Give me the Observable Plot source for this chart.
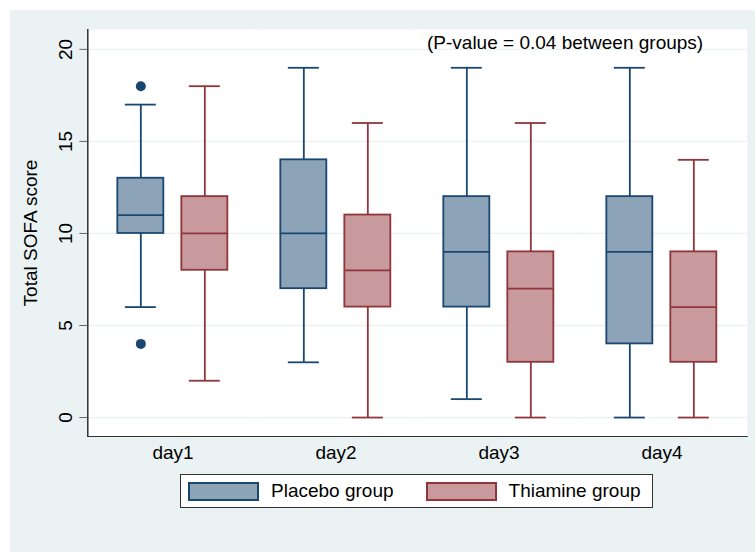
<!DOCTYPE html>
<html><head><meta charset="utf-8">
<script src="https://cdn.jsdelivr.net/npm/d3@7"></script>
<script src="https://cdn.jsdelivr.net/npm/@observablehq/plot@0.6"></script>
<style>
html,body{margin:0;padding:0;background:#fff;}
#wrap{position:absolute;left:10px;top:10px;width:745px;height:542px;background:#EAF2F3;overflow:hidden;font-family:"Liberation Sans",Arial,sans-serif;}
#chart svg{display:block}
#legend{position:absolute;left:170px;top:464px;width:473px;height:34px;box-sizing:border-box;border:1px solid #333;background:#fff;display:flex;align-items:center;font-size:19px;color:#000;}
.sw{width:71px;height:19px;box-sizing:border-box;border:2px solid;}
</style></head><body>
<div id="wrap"><div id="chart"></div><div id="legend"></div></div>
<script>
const days = ["day1", "day2", "day3", "day4"];
const groups = ["Placebo", "Thiamine"];
const groupLabels = ["Placebo group", "Thiamine group"];
const fills = ["#8DA3B8", "#C8999D"];
const strokes = ["#1A476F", "#90353B"];

const placeboMin    = [6, 3, 1, 0];
const placeboQ1     = [10, 7, 6, 4];
const placeboMedian = [11, 10, 9, 9];
const placeboQ3     = [13, 14, 12, 12];
const placeboMax    = [17, 19, 19, 19];

const thiamineMin    = [2, 0, 0, 0];
const thiamineQ1     = [8, 6, 3, 3];
const thiamineMedian = [10, 8, 7, 6];
const thiamineQ3     = [12, 11, 9, 9];
const thiamineMax    = [18, 16, 16, 14];

const outlierDays   = ["day1", "day1"];
const outlierGroups = ["Placebo", "Placebo"];
const outlierValues = [18, 4];

const yTicks = [0, 5, 10, 15, 20];
const yLabel = "Total SOFA score";
const noteText = ["(P-value = 0.04 between groups)"];
const noteDay = ["day4"];
const noteY = [20];

const stats = {
  Placebo: {min: placeboMin, q1: placeboQ1, median: placeboMedian, q3: placeboQ3, max: placeboMax},
  Thiamine: {min: thiamineMin, q1: thiamineQ1, median: thiamineMedian, q3: thiamineQ3, max: thiamineMax}
};
const rows = groups.flatMap(g => days.map((d, i) => ({
  day: d, group: g,
  min: stats[g].min[i], q1: stats[g].q1[i], median: stats[g].median[i], q3: stats[g].q3[i], max: stats[g].max[i]
})));
const outliers = outlierValues.map((v, i) => ({day: outlierDays[i], group: outlierGroups[i], value: v}));
const notes = noteText.map((t, i) => ({text: t, day: noteDay[i], y: noteY[i]}));

function boxMarks(g, fill, stroke) {
  const data = rows.filter(r => r.group === g);
  const pts = outliers.filter(o => o.group === g);
  const common = {fx: "day", x: "group", stroke, strokeWidth: 1.8};
  return [
    Plot.ruleX(data, {...common, y1: "min", y2: "q1"}),
    Plot.ruleX(data, {...common, y1: "q3", y2: "max"}),
    Plot.tickY(data, {...common, y: "min", insetLeft: 7.5, insetRight: 7.5}),
    Plot.tickY(data, {...common, y: "max", insetLeft: 7.5, insetRight: 7.5}),
    Plot.barY(data, {...common, y1: "q1", y2: "q3", fill}),
    Plot.tickY(data, {...common, y: "median"}),
    Plot.dot(pts, {fx: "day", x: "group", y: "value", r: 5, fill: stroke, stroke: "none"})
  ];
}

const ext = 3.67; // plot region extends slightly past the outer day slots
const fs = 19;
const font = "'Liberation Sans', Arial, sans-serif";
const chart = Plot.plot({
  width: 745, height: 460,
  marginTop: 19, marginRight: 10.67, marginBottom: 34, marginLeft: 79.67,
  style: {background: "transparent", fontFamily: font, fontSize: fs + "px", color: "#000", overflow: "visible"},
  fx: {domain: days, padding: 0, label: null},
  x: {type: "band", domain: groups, paddingInner: 0.277, paddingOuter: 0.3975, axis: null},
  y: {domain: [-1.03, 21.08]},
  marks: [
    Plot.frame({fill: "white", stroke: null, insetLeft: -ext, insetRight: -ext}),
    Plot.ruleY(yTicks, {stroke: "#EAF2F3", strokeWidth: 1.3, insetLeft: -ext, insetRight: -ext}),
    Plot.frame({anchor: "left", facetAnchor: "left", dx: -ext, stroke: "#000", strokeWidth: 1.2}),
    Plot.frame({anchor: "bottom", stroke: "#333", strokeWidth: 1.2, insetLeft: -ext, insetRight: -ext}),
    Plot.axisY(yTicks, {
      tickSize: 8, tickPadding: 8, tickRotate: -90, dx: -ext,
      stroke: "#666", fill: "#000", fontSize: fs,
      label: yLabel, labelAnchor: "center", labelOffset: 64.5 + ext, labelArrow: "none"
    }),
    Plot.axisFx({anchor: "bottom", tickSize: 0, tickPadding: 9, label: null, fontSize: fs, fill: "#000"}),
    ...boxMarks(groups[0], fills[0], strokes[0]),
    ...boxMarks(groups[1], fills[1], strokes[1]),
    Plot.text(notes, {
      fx: "day", y: "y", text: "text", frameAnchor: "right", dx: -40.3,
      textAnchor: "end", lineAnchor: "bottom", fontSize: fs, fill: "#000"
    })
  ]
});
document.getElementById("chart").appendChild(chart);

const legend = document.getElementById("legend");
groupLabels.forEach((lab, i) => {
  const sw = document.createElement("div");
  sw.className = "sw";
  sw.style.background = fills[i];
  sw.style.borderColor = strokes[i];
  sw.style.marginLeft = i === 0 ? "7px" : "32px";
  const t = document.createElement("span");
  t.textContent = lab;
  t.style.marginLeft = "12px";
  legend.appendChild(sw);
  legend.appendChild(t);
});
</script></body></html>
